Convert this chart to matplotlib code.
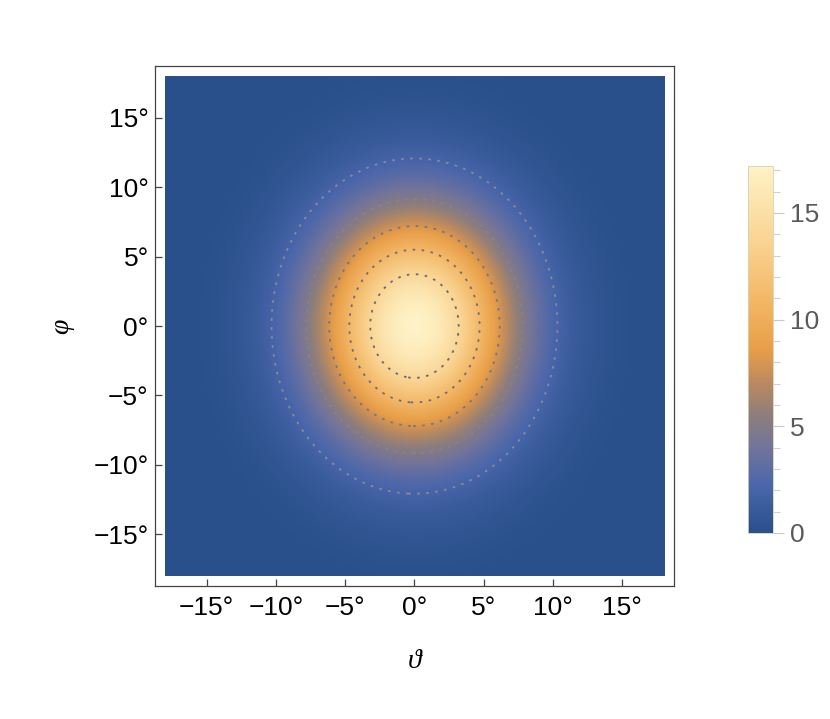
import numpy as np
import matplotlib.pyplot as plt
from matplotlib.colors import LinearSegmentedColormap

plt.rcParams["font.family"] = ["Liberation Sans", "DejaVu Sans"]

# values
theta_range = (-18.0, 18.0)      # deg
phi_range = (-18.0, 18.0)        # deg
peak = 17.2                      # top of the colour bar
sigma_theta = 4.97               # deg, from the contour widths
sigma_phi = 5.82                 # deg, from the contour heights
contour_levels = [2, 5, 8, 11, 14]
contour_colors = ["#8c8c8e", "#85858a", "#737682", "#686c7c", "#646878"]

axis_ticks = [-15, -10, -5, 0, 5, 10, 15]
cbar_ticks = [0, 5, 10, 15]

# colour stops of the density gradient (value, colour)
stop_values = [0.0, 2.2, 4.0, 5.6, 7.2, 8.6, 11.0, 13.5, 17.2]
stop_colors = ["#29508a", "#4a66ab", "#72749a", "#8f7e7a", "#c08b5c",
               "#e89e48", "#f3b868", "#f9d28f", "#fff2c6"]

cmap = LinearSegmentedColormap.from_list(
    "dens", [(v / peak, c) for v, c in zip(stop_values, stop_colors)])

th = np.linspace(theta_range[0], theta_range[1], 401)
ph = np.linspace(phi_range[0], phi_range[1], 401)
TH, PH = np.meshgrid(th, ph)
Z = peak * np.exp(-TH**2 / (2 * sigma_theta**2) - PH**2 / (2 * sigma_phi**2))

fig = plt.figure(figsize=(8.3, 7.19), dpi=100)
ax = fig.add_axes([0.1867, 0.185, 0.6253, 0.723])

im = ax.imshow(Z, extent=[*theta_range, *phi_range], origin="lower",
               cmap=cmap, vmin=0, vmax=peak, interpolation="bilinear",
               aspect="auto")
ax.contour(TH, PH, Z, levels=contour_levels, colors=contour_colors,
           linewidths=1.3, linestyles=[(0, (1.4, 3.6))])

pad = 0.02 * (theta_range[1] - theta_range[0])
ax.set_xlim(theta_range[0] - pad, theta_range[1] + pad)
ax.set_ylim(phi_range[0] - pad, phi_range[1] + pad)

labels = [("\u2212%d°" % -t) if t < 0 else "%d°" % t for t in axis_ticks]
ax.set_xticks(axis_ticks, labels)
ax.set_yticks(axis_ticks, labels)
ax.tick_params(direction="in", length=5, width=0.9, color="#444444",
               labelsize=19, top=False, right=False, labelcolor="black")
ax.tick_params(axis="x", pad=7.5)
ax.tick_params(axis="y", pad=4.5)
for s in ax.spines.values():
    s.set_color("#444444")
    s.set_linewidth(0.9)

ax.set_xlabel("ϑ", fontsize=20, fontstyle="italic",
              family=["Liberation Serif", "DejaVu Serif"], va="center")
ax.xaxis.set_label_coords(0.5, -0.146)
ax.set_ylabel("φ", fontsize=20, fontstyle="italic",
              family=["Liberation Serif", "DejaVu Serif"], va="center",
              ha="center")
ax.yaxis.set_label_coords(-0.179, 0.5)

cax = fig.add_axes([0.9012, 0.2587, 0.0301, 0.5104])
cb = fig.colorbar(im, cax=cax, ticks=cbar_ticks)
cb.outline.set_edgecolor("#d8d0b8")
cb.outline.set_linewidth(0.6)
cax.set_yticks(range(0, 18), minor=True)
cax.tick_params(which="major", length=8, width=0.8, color="#c8c8c8",
                labelsize=19, labelcolor="#5a5a5a", pad=4)
cax.tick_params(which="minor", length=5, width=0.8, color="#d0d0d0")

fig.savefig("out.png", dpi=100)
